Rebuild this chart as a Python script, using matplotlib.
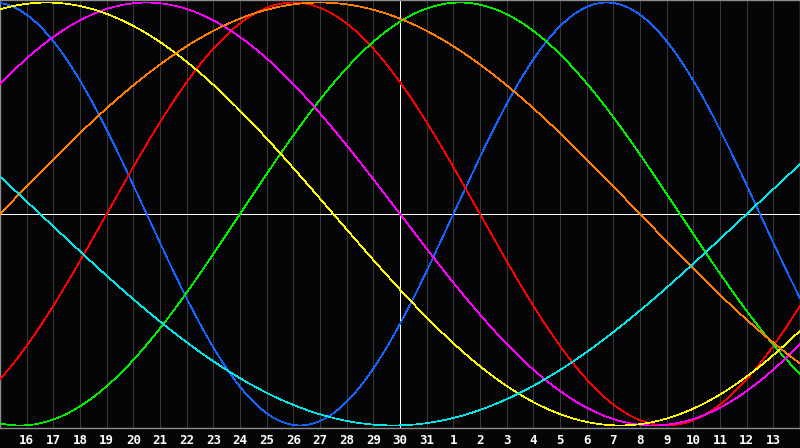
import numpy as np
import matplotlib
matplotlib.use("Agg")
import matplotlib.pyplot as plt

# ---------------- DATA ----------------
# day numbers under the grid lines (first line of the chart is day 15)
day_labels = [16, 17, 18, 19, 20, 21, 22, 23, 24, 25, 26, 27, 28, 29, 30, 31,
              1, 2, 3, 4, 5, 6, 7, 8, 9, 10, 11, 12, 13]
n_days = 30
today_index = 15           # day 30, the white vertical line
days_since_birth = 27744   # at the left edge (day 15)

cycle_names = ["physical", "emotional", "intellectual", "intuitive",
               "aesthetic", "awareness", "spiritual"]
periods = [23, 28, 33, 38, 43, 48, 53]
colors = ["#1464ff", "#ff0000", "#00f000", "#ff00ff",
          "#ffff00", "#ff8000", "#00e8e8"]

# ---------------- PLOT ----------------
W, H = 800, 448
fig = plt.figure(figsize=(W / 100, H / 100), dpi=100, facecolor="#050508")
ax = fig.add_axes([0, 20 / H, 1, 428 / H], facecolor="#050508")

ax.set_xlim(0, n_days)
ax.set_ylim(-1.012, 1.012)

# day grid
for i in range(1, n_days):
    ax.axvline(i, color="#383838", lw=0.5, antialiased=False, zorder=1)

# centre cross
ax.axhline(0, color="white", lw=0.5, antialiased=False, zorder=2)
ax.axvline(today_index, color="white", lw=0.5, antialiased=False, zorder=2)

t = np.linspace(0, n_days, 1601)
for name, p, c in zip(cycle_names, periods, colors):
    ax.plot(t, np.sin(2 * np.pi * (days_since_birth + t) / p),
            color=c, lw=0.5, antialiased=False, label=name, zorder=3)

for s in ax.spines.values():
    s.set_color("#8c8c8c")
    s.set_linewidth(1.0)

ax.set_yticks([])
ax.set_xticks(range(1, n_days))
ax.set_xticklabels([str(d) for d in day_labels])
ax.tick_params(axis="x", length=0, pad=4, colors="white")
for lab in ax.get_xticklabels():
    lab.set_fontfamily("DejaVu Sans Mono")
    lab.set_fontweight("bold")
    lab.set_fontsize(9)

fig.savefig("out.png", dpi=100, facecolor=fig.get_facecolor())
